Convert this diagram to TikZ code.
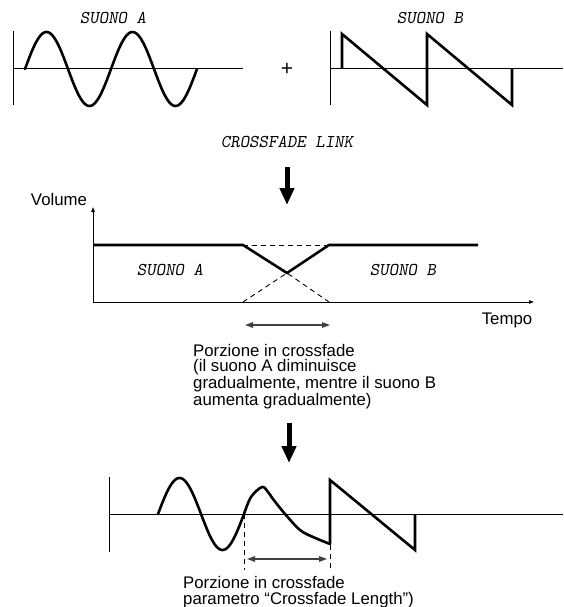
\documentclass[tikz,border=0pt]{standalone}
\usepackage{fontspec}
\setmainfont{Liberation Sans}
\usetikzlibrary{arrows.meta}
\begin{document}
\begin{tikzpicture}[x=1pt,y=-1pt,
  axis/.style={line width=1pt},
  wave/.style={line width=2.6pt, line join=round, line cap=round},
  thick line/.style={line width=2.6pt, line join=miter},
  dash line/.style={line width=0.9pt, dash pattern=on 5pt off 4pt},
  bigarrow/.style={line width=5pt, -{Triangle[length=17pt,width=14pt]}},
  spanarrow/.style={line width=1.3pt, draw=black!75, {Triangle[length=8pt,width=5.5pt]}-{Triangle[length=8pt,width=5.5pt]}},
  axarrow/.style={line width=1pt, -{Triangle[length=5pt,width=3.5pt]}},
  monolabel/.style={font=\ttfamily\slshape\fontsize{18}{18}\selectfont, inner sep=0pt},
  sanslabel/.style={font=\fontsize{16.8}{15.6}\selectfont, align=left, inner sep=0pt}
]
\useasboundingbox (0,0) rectangle (563,607);

% ---------- top left: SUONO A ----------
\node[monolabel] (labA) at (113,18) {SUONO A};
\draw[axis] (13,31) -- (13,105);
\draw[axis] (13,69) -- (243,69);
\draw[wave] plot[domain=25:197, samples=120] (\x, {69-37*sin((\x-25)/86*360)});

% plus
\node[font=\fontsize{21}{21}\selectfont, inner sep=0pt] (plus) at (287,69) {+};

% ---------- top right: SUONO B ----------
\node[monolabel] (labB) at (430,18) {SUONO B};
\draw[axis] (330,31) -- (330,105);
\draw[axis] (330,69) -- (563,69);
\draw[wave, line join=miter, line cap=butt] (342,69) -- (342,34) -- (427,105) -- (427,34) -- (512,105) -- (512,69);

% ---------- CROSSFADE LINK ----------
\node[monolabel] (link) at (287,142) {CROSSFADE LINK};
\coordinate (a1s) at (287,167);
\coordinate (a1e) at (287,205);
\draw[bigarrow] (a1s) -- (a1e);

% ---------- volume graph ----------
\coordinate (orig) at (93,302);
\coordinate (ytop) at (93,207);
\coordinate (xend) at (534,302);
\draw[axarrow] (orig) -- (ytop);
\draw[axarrow] (orig) -- (xend);
\node[sanslabel, anchor=center] (vol) at (59,199) {Volume};
\node[sanslabel, anchor=center] (tempo) at (507,320) {Tempo};

\coordinate (p1) at (93,245);
\coordinate (p2) at (243,245);
\coordinate (pm) at (287,273);
\coordinate (p3) at (329,245);
\coordinate (p4) at (478,245);
\coordinate (b1) at (243,302);
\coordinate (b2) at (329,302);
\draw[dash line] (p2) -- (p3);
\draw[dash line] (b1) -- (pm) -- (b2);
\draw[thick line] (p1) -- (p2) -- (pm) -- (p3) -- (p4);

\node[monolabel] (midA) at (170,270) {SUONO A};
\node[monolabel] (midB) at (403,270) {SUONO B};

\coordinate (s1l) at (245,325);
\coordinate (s1r) at (330,325);
\draw[spanarrow] (s1l) -- (s1r);

\node[sanslabel, anchor=north west] (desc1) at (193,344) {Porzione in crossfade\\(il suono A diminuisce\\gradualmente, mentre il suono B\\aumenta gradualmente)};

\coordinate (a2s) at (289,423);
\coordinate (a2e) at (289,463);
\draw[bigarrow] (a2s) -- (a2e);

% ---------- result wave ----------
\draw[axis] (109,477) -- (109,552);
\draw[axis] (109,514) -- (563,514);
\draw[wave] plot[domain=158:244, samples=80] (\x, {514-36*sin((\x-158)/86*360)})
  -- plot[smooth, tension=0.55] coordinates {(244,514) (251,497) (262,487) (268,492) (273,499) (285,514) (300,530) (313,537) (330,544)};
\draw[wave, line join=miter, line cap=butt] (330,544) -- (330,480) -- (415,550) -- (415,514);

\coordinate (d1t) at (244,514);
\coordinate (d1b) at (244,570);
\coordinate (d2t) at (330,545);
\coordinate (d2b) at (330,570);
\draw[dash line] (d1t) -- (d1b);
\draw[dash line] (d2t) -- (d2b);
\coordinate (s2l) at (247,559);
\coordinate (s2r) at (327,559);
\draw[spanarrow] (s2l) -- (s2r);

\node[sanslabel, anchor=north west] (desc2) at (183,576.5) {Porzione in crossfade\\parametro “Crossfade Length”)};
\end{tikzpicture}
\end{document}
